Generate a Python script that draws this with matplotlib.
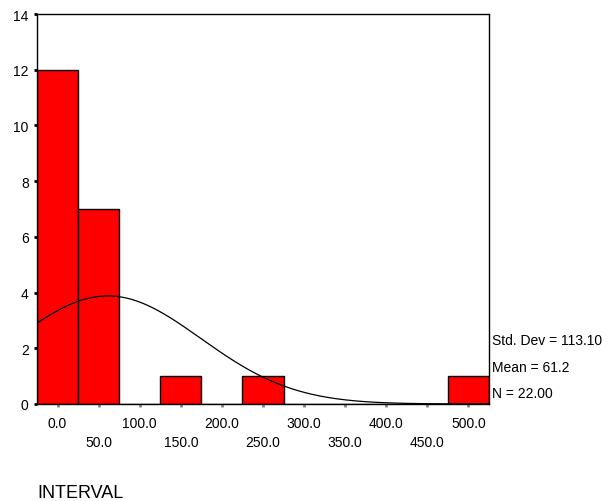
import numpy as np
import matplotlib
matplotlib.use("Agg")
from matplotlib import pyplot as plt

plt.rcParams['font.family'] = ['Liberation Sans', 'DejaVu Sans']

# histogram of INTERVAL
binCenters = [0, 50, 100, 150, 200, 250, 300, 350, 400, 450, 500]
counts = [12, 7, 0, 1, 0, 1, 0, 0, 0, 0, 1]
binWidth = 50
stdDev = 113.10
mean = 61.2
n = 22

fig = plt.figure(figsize=(6.13, 5.02), dpi=100)
ax = fig.add_axes([37 / 613, 1 - 405 / 502, 452 / 613, 390 / 502])

ax.bar(binCenters, counts, width=binWidth, color="#ff0000", edgecolor="black", linewidth=1, zorder=2)

# normal curve from the stated mean / std dev, scaled to counts
xs = np.linspace(-25, 525, 400)
ys = n * binWidth / (stdDev * np.sqrt(2 * np.pi)) * np.exp(-0.5 * ((xs - mean) / stdDev) ** 2)
ax.plot(xs, ys, color="black", linewidth=0.9, zorder=3)

ax.set_xlim(-25, 525)
ax.set_ylim(0, 14)
ax.set_yticks(range(0, 15, 2))

# staggered x labels: two rows
ax.set_xticks(binCenters[::2])
ax.set_xticklabels([f"{v:.1f}" for v in binCenters[::2]])
ax.set_xticks(binCenters[1::2], minor=True)
ax.set_xticklabels([f"{v:.1f}" for v in binCenters[1::2]], minor=True)
ax.tick_params(axis="x", which="major", direction="out", length=2, width=2, color="#888888", pad=7, labelsize=10)
ax.tick_params(axis="x", which="minor", direction="out", length=2, width=2, color="#888888", pad=20, labelsize=10)
ax.tick_params(axis="y", direction="out", length=2, width=2, color="black", pad=4, labelsize=10)

for s in ax.spines.values():
    s.set_linewidth(1)
    s.set_color("black")

ax.text(1.007, 0.164, f"Std. Dev = {stdDev:.2f}", transform=ax.transAxes, fontsize=10, va="center", ha="left")
ax.text(1.007, 0.095, f"Mean = {mean:.1f}", transform=ax.transAxes, fontsize=10, va="center", ha="left")
ax.text(1.007, 0.028, f"N = {n:.2f}", transform=ax.transAxes, fontsize=10, va="center", ha="left")

fig.text(37 / 613, 1 - 494 / 502, "INTERVAL", fontsize=13, va="center", ha="left")

fig.savefig("out.png", dpi=100)
